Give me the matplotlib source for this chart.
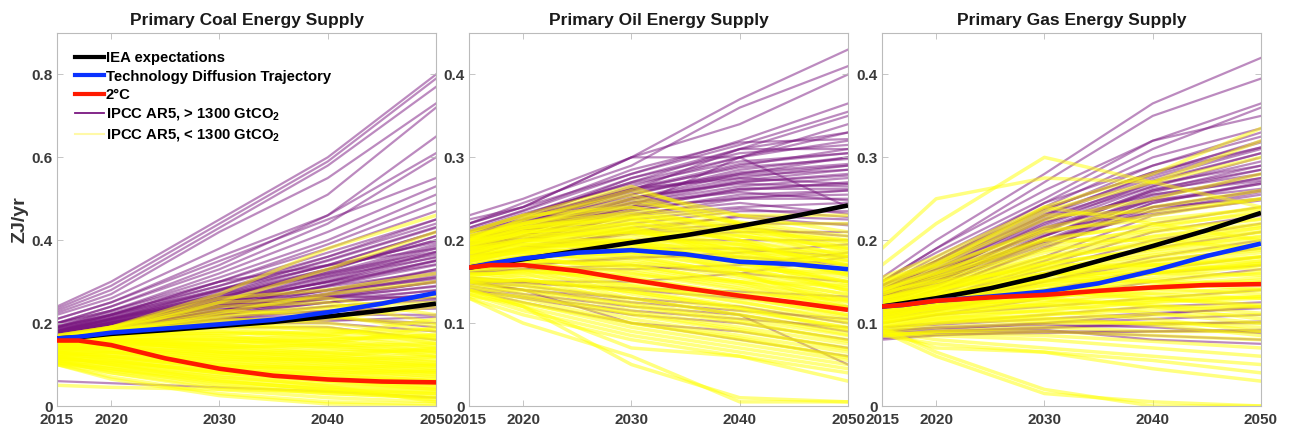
import matplotlib
matplotlib.use("Agg")
import matplotlib.pyplot as plt
from matplotlib.lines import Line2D

# scenario years (IPCC AR5 database points, clipped at 2015)
scen_years = [2015, 2020, 2030, 2040, 2050]
# smooth trajectories
path_years = [2015, 2017, 2020, 2025, 2030, 2035, 2040, 2045, 2050]

titles = ["Primary Coal Energy Supply", "Primary Oil Energy Supply", "Primary Gas Energy Supply"]
ylims = [0.9, 0.45, 0.45]
yticks = [[0, 0.2, 0.4, 0.6, 0.8], [0, 0.1, 0.2, 0.3, 0.4], [0, 0.1, 0.2, 0.3, 0.4]]
xticks = [2015, 2020, 2030, 2040, 2050]

# ---- main trajectories ----
coal_iea = [0.163, 0.166, 0.174, 0.183, 0.193, 0.203, 0.216, 0.230, 0.247]
coal_tdt = [0.163, 0.167, 0.177, 0.187, 0.197, 0.208, 0.226, 0.247, 0.273]
coal_2c = [0.158, 0.158, 0.147, 0.115, 0.090, 0.073, 0.064, 0.059, 0.057]

oil_iea = [0.167, 0.171, 0.177, 0.187, 0.197, 0.206, 0.217, 0.229, 0.242]
oil_tdt = [0.167, 0.172, 0.178, 0.185, 0.188, 0.183, 0.174, 0.171, 0.165]
oil_2c = [0.167, 0.170, 0.170, 0.163, 0.152, 0.142, 0.133, 0.125, 0.116]

gas_iea = [0.120, 0.124, 0.130, 0.142, 0.157, 0.175, 0.193, 0.212, 0.233]
gas_tdt = [0.120, 0.122, 0.127, 0.132, 0.138, 0.148, 0.163, 0.181, 0.196]
gas_2c = [0.120, 0.122, 0.127, 0.131, 0.134, 0.139, 0.143, 0.146, 0.147]

# ---- IPCC AR5 scenarios, > 1300 GtCO2 ----
coal_high = [
    [0.240, 0.300, 0.450, 0.600, 0.800], [0.235, 0.290, 0.440, 0.590, 0.790],
    [0.230, 0.280, 0.430, 0.580, 0.770], [0.225, 0.270, 0.420, 0.550, 0.730],
    [0.220, 0.260, 0.380, 0.510, 0.720], [0.210, 0.250, 0.360, 0.460, 0.650],
    [0.200, 0.240, 0.340, 0.460, 0.610], [0.200, 0.240, 0.330, 0.440, 0.600],
    [0.210, 0.250, 0.350, 0.450, 0.550], [0.190, 0.230, 0.320, 0.420, 0.530],
    [0.200, 0.230, 0.310, 0.400, 0.510], [0.190, 0.220, 0.300, 0.390, 0.490],
    [0.190, 0.220, 0.300, 0.380, 0.470], [0.180, 0.220, 0.290, 0.370, 0.450],
    [0.190, 0.220, 0.280, 0.360, 0.440], [0.180, 0.210, 0.280, 0.350, 0.430],
    [0.180, 0.210, 0.270, 0.340, 0.420], [0.180, 0.210, 0.270, 0.330, 0.410],
    [0.180, 0.210, 0.260, 0.330, 0.400], [0.170, 0.200, 0.260, 0.320, 0.390],
    [0.180, 0.200, 0.250, 0.310, 0.380], [0.170, 0.200, 0.250, 0.300, 0.370],
    [0.170, 0.200, 0.250, 0.300, 0.360], [0.170, 0.200, 0.240, 0.290, 0.350],
    [0.170, 0.190, 0.240, 0.290, 0.340], [0.170, 0.190, 0.240, 0.280, 0.330],
    [0.170, 0.190, 0.230, 0.280, 0.320], [0.160, 0.190, 0.230, 0.270, 0.310],
    [0.170, 0.190, 0.230, 0.260, 0.300], [0.160, 0.190, 0.220, 0.260, 0.290],
    [0.170, 0.190, 0.220, 0.250, 0.280], [0.160, 0.180, 0.220, 0.250, 0.270],
    [0.160, 0.180, 0.210, 0.240, 0.260], [0.160, 0.180, 0.210, 0.230, 0.240],
    [0.160, 0.180, 0.210, 0.220, 0.220], [0.160, 0.180, 0.200, 0.210, 0.200],
    [0.160, 0.180, 0.200, 0.200, 0.180], [0.160, 0.170, 0.190, 0.190, 0.160],
    [0.175, 0.205, 0.265, 0.330, 0.400], [0.185, 0.215, 0.275, 0.340, 0.380],
    [0.175, 0.200, 0.245, 0.300, 0.350], [0.165, 0.195, 0.240, 0.270, 0.330],
    [0.180, 0.205, 0.255, 0.280, 0.310], [0.170, 0.195, 0.225, 0.265, 0.300],
    [0.200, 0.230, 0.300, 0.340, 0.420], [0.195, 0.225, 0.290, 0.360, 0.450],
    [0.172, 0.198, 0.255, 0.315, 0.385], [0.178, 0.205, 0.262, 0.322, 0.372],
    [0.168, 0.192, 0.238, 0.292, 0.352], [0.182, 0.208, 0.258, 0.298, 0.342],
    [0.176, 0.200, 0.248, 0.288, 0.325], [0.166, 0.188, 0.232, 0.272, 0.315],
    [0.174, 0.196, 0.236, 0.268, 0.298], [0.164, 0.186, 0.226, 0.262, 0.288],
    [0.186, 0.212, 0.268, 0.318, 0.365], [0.192, 0.220, 0.282, 0.338, 0.395],
    [0.170, 0.194, 0.242, 0.305, 0.372], [0.178, 0.202, 0.252, 0.312, 0.358],
    [0.168, 0.190, 0.230, 0.250, 0.268], [0.166, 0.186, 0.220, 0.240, 0.255],
    [0.172, 0.192, 0.228, 0.258, 0.278], [0.184, 0.210, 0.262, 0.325, 0.410],
    [0.188, 0.216, 0.278, 0.352, 0.432], [0.176, 0.202, 0.245, 0.278, 0.305],
    [0.170, 0.195, 0.240, 0.265, 0.260], [0.164, 0.184, 0.215, 0.230, 0.235],
    [0.162, 0.182, 0.210, 0.205, 0.215], [0.160, 0.178, 0.205, 0.215, 0.190],
    [0.060, 0.055, 0.045, 0.035, 0.020],
]
oil_high = [
    [0.230, 0.250, 0.300, 0.370, 0.430], [0.220, 0.245, 0.290, 0.360, 0.410],
    [0.225, 0.240, 0.300, 0.340, 0.400], [0.220, 0.240, 0.280, 0.320, 0.365],
    [0.215, 0.235, 0.280, 0.315, 0.355], [0.210, 0.230, 0.275, 0.310, 0.350],
    [0.210, 0.230, 0.270, 0.300, 0.340], [0.220, 0.240, 0.300, 0.300, 0.330],
    [0.210, 0.230, 0.270, 0.310, 0.330], [0.200, 0.225, 0.265, 0.300, 0.320],
    [0.210, 0.220, 0.260, 0.290, 0.310], [0.200, 0.220, 0.260, 0.310, 0.310],
    [0.200, 0.220, 0.255, 0.285, 0.300], [0.210, 0.225, 0.260, 0.280, 0.300],
    [0.200, 0.215, 0.250, 0.280, 0.290], [0.190, 0.210, 0.250, 0.275, 0.290],
    [0.200, 0.215, 0.245, 0.270, 0.280], [0.200, 0.210, 0.240, 0.300, 0.240],
    [0.190, 0.210, 0.245, 0.265, 0.275], [0.190, 0.205, 0.240, 0.260, 0.270],
    [0.200, 0.210, 0.240, 0.250, 0.260], [0.190, 0.205, 0.235, 0.255, 0.260],
    [0.190, 0.200, 0.230, 0.250, 0.250], [0.180, 0.200, 0.230, 0.240, 0.245],
    [0.190, 0.200, 0.220, 0.235, 0.235], [0.180, 0.190, 0.210, 0.230, 0.225],
    [0.180, 0.190, 0.210, 0.220, 0.220], [0.180, 0.190, 0.200, 0.210, 0.210],
    [0.170, 0.180, 0.200, 0.200, 0.200], [0.170, 0.180, 0.190, 0.190, 0.180],
    [0.160, 0.170, 0.180, 0.180, 0.170], [0.160, 0.165, 0.170, 0.160, 0.150],
    [0.150, 0.150, 0.140, 0.130, 0.120], [0.150, 0.140, 0.130, 0.120, 0.100],
    [0.145, 0.135, 0.120, 0.110, 0.090], [0.140, 0.130, 0.110, 0.100, 0.080],
    [0.150, 0.140, 0.100, 0.090, 0.070], [0.140, 0.125, 0.100, 0.080, 0.060],
    [0.150, 0.145, 0.130, 0.110, 0.050], [0.155, 0.150, 0.150, 0.160, 0.180],
    [0.205, 0.222, 0.262, 0.292, 0.305], [0.195, 0.212, 0.248, 0.272, 0.285],
    [0.205, 0.218, 0.252, 0.268, 0.265], [0.185, 0.205, 0.238, 0.262, 0.268],
    [0.205, 0.225, 0.262, 0.288, 0.298], [0.198, 0.218, 0.255, 0.282, 0.292],
    [0.212, 0.232, 0.268, 0.295, 0.305], [0.202, 0.222, 0.258, 0.278, 0.285],
    [0.196, 0.214, 0.250, 0.270, 0.278], [0.208, 0.228, 0.262, 0.275, 0.268],
    [0.192, 0.210, 0.242, 0.262, 0.262], [0.188, 0.206, 0.236, 0.252, 0.255],
    [0.195, 0.212, 0.245, 0.258, 0.248], [0.185, 0.202, 0.232, 0.245, 0.232],
    [0.182, 0.198, 0.225, 0.238, 0.228], [0.176, 0.192, 0.215, 0.228, 0.218],
    [0.174, 0.188, 0.208, 0.215, 0.205], [0.215, 0.236, 0.285, 0.318, 0.322],
    [0.202, 0.225, 0.275, 0.305, 0.315], [0.152, 0.148, 0.142, 0.138, 0.132],
    [0.148, 0.140, 0.125, 0.115, 0.105], [0.142, 0.132, 0.115, 0.105, 0.095],
    [0.165, 0.170, 0.178, 0.185, 0.195], [0.162, 0.165, 0.165, 0.170, 0.185],
]
gas_high = [
    [0.155, 0.200, 0.280, 0.365, 0.420], [0.150, 0.190, 0.270, 0.350, 0.395],
    [0.150, 0.185, 0.250, 0.320, 0.365], [0.145, 0.180, 0.245, 0.310, 0.360],
    [0.150, 0.190, 0.260, 0.320, 0.350], [0.145, 0.175, 0.240, 0.300, 0.335],
    [0.140, 0.170, 0.235, 0.290, 0.330], [0.140, 0.175, 0.245, 0.290, 0.325],
    [0.135, 0.165, 0.230, 0.280, 0.320], [0.140, 0.170, 0.230, 0.275, 0.310],
    [0.135, 0.160, 0.220, 0.270, 0.305], [0.130, 0.160, 0.225, 0.265, 0.300],
    [0.130, 0.155, 0.210, 0.260, 0.290], [0.130, 0.150, 0.200, 0.250, 0.280],
    [0.125, 0.150, 0.205, 0.255, 0.275], [0.125, 0.145, 0.195, 0.245, 0.270],
    [0.120, 0.140, 0.190, 0.240, 0.260], [0.125, 0.145, 0.200, 0.235, 0.255],
    [0.120, 0.140, 0.180, 0.230, 0.250], [0.120, 0.135, 0.175, 0.220, 0.240],
    [0.115, 0.130, 0.170, 0.210, 0.230], [0.115, 0.130, 0.165, 0.200, 0.220],
    [0.110, 0.125, 0.160, 0.190, 0.210], [0.110, 0.120, 0.150, 0.180, 0.200],
    [0.105, 0.115, 0.140, 0.165, 0.180], [0.100, 0.110, 0.130, 0.150, 0.165],
    [0.100, 0.110, 0.120, 0.130, 0.140], [0.095, 0.100, 0.110, 0.120, 0.125],
    [0.090, 0.095, 0.100, 0.105, 0.110], [0.085, 0.090, 0.095, 0.100, 0.100],
    [0.085, 0.088, 0.090, 0.085, 0.080], [0.080, 0.085, 0.090, 0.090, 0.090],
    [0.085, 0.090, 0.092, 0.080, 0.075], [0.090, 0.092, 0.100, 0.110, 0.120],
    [0.130, 0.160, 0.200, 0.240, 0.260], [0.140, 0.165, 0.215, 0.260, 0.280],
    [0.135, 0.158, 0.212, 0.262, 0.285], [0.128, 0.152, 0.205, 0.248, 0.268],
    [0.145, 0.172, 0.238, 0.282, 0.312], [0.132, 0.155, 0.198, 0.232, 0.248],
    [0.138, 0.165, 0.225, 0.272, 0.305], [0.134, 0.160, 0.218, 0.265, 0.295],
    [0.130, 0.156, 0.212, 0.258, 0.285], [0.142, 0.168, 0.232, 0.278, 0.312],
    [0.126, 0.150, 0.205, 0.252, 0.275], [0.122, 0.146, 0.198, 0.245, 0.268],
    [0.128, 0.152, 0.215, 0.248, 0.262], [0.132, 0.158, 0.222, 0.255, 0.272],
    [0.118, 0.140, 0.192, 0.236, 0.258], [0.124, 0.148, 0.208, 0.240, 0.250],
    [0.136, 0.162, 0.228, 0.268, 0.290], [0.146, 0.175, 0.238, 0.282, 0.318],
    [0.088, 0.090, 0.094, 0.098, 0.102], [0.082, 0.086, 0.088, 0.090, 0.092],
    [0.092, 0.094, 0.098, 0.095, 0.088], [0.095, 0.098, 0.105, 0.112, 0.118],
    [0.112, 0.124, 0.150, 0.175, 0.190], [0.108, 0.118, 0.140, 0.160, 0.170],
]

# ---- IPCC AR5 scenarios, < 1300 GtCO2 ----
coal_low = [
    [0.170, 0.190, 0.270, 0.380, 0.460], [0.160, 0.180, 0.250, 0.330, 0.420],
    [0.160, 0.190, 0.260, 0.280, 0.320], [0.160, 0.190, 0.250, 0.260, 0.220],
    [0.170, 0.190, 0.240, 0.250, 0.200], [0.160, 0.180, 0.220, 0.240, 0.250],
    [0.170, 0.190, 0.230, 0.220, 0.180], [0.160, 0.180, 0.210, 0.200, 0.170],
    [0.160, 0.180, 0.200, 0.190, 0.150], [0.160, 0.170, 0.190, 0.170, 0.140],
    [0.160, 0.170, 0.180, 0.160, 0.130], [0.150, 0.170, 0.170, 0.150, 0.120],
    [0.150, 0.160, 0.160, 0.140, 0.120], [0.150, 0.160, 0.150, 0.130, 0.110],
    [0.150, 0.150, 0.140, 0.120, 0.100], [0.140, 0.150, 0.130, 0.110, 0.100],
    [0.140, 0.140, 0.120, 0.110, 0.090], [0.140, 0.140, 0.120, 0.100, 0.080],
    [0.140, 0.130, 0.110, 0.090, 0.080], [0.130, 0.130, 0.100, 0.090, 0.070],
    [0.130, 0.120, 0.100, 0.080, 0.060], [0.130, 0.120, 0.090, 0.070, 0.060],
    [0.130, 0.110, 0.080, 0.060, 0.050], [0.120, 0.110, 0.080, 0.060, 0.040],
    [0.120, 0.100, 0.070, 0.050, 0.040], [0.120, 0.100, 0.060, 0.040, 0.030],
    [0.110, 0.090, 0.050, 0.030, 0.020], [0.110, 0.080, 0.040, 0.020, 0.010],
    [0.100, 0.070, 0.030, 0.010, 0.005], [0.100, 0.065, 0.025, 0.005, 0.000],
    [0.150, 0.160, 0.140, 0.150, 0.190], [0.150, 0.170, 0.160, 0.170, 0.210],
    [0.160, 0.170, 0.190, 0.210, 0.240], [0.140, 0.150, 0.150, 0.160, 0.170],
    [0.150, 0.160, 0.130, 0.120, 0.140], [0.155, 0.165, 0.145, 0.125, 0.105],
    [0.145, 0.155, 0.135, 0.115, 0.095], [0.135, 0.145, 0.125, 0.105, 0.085],
    [0.135, 0.135, 0.115, 0.095, 0.075], [0.125, 0.125, 0.105, 0.085, 0.065],
    [0.125, 0.115, 0.095, 0.075, 0.055], [0.115, 0.105, 0.085, 0.065, 0.045],
    [0.115, 0.095, 0.065, 0.045, 0.035], [0.105, 0.085, 0.055, 0.035, 0.025],
    [0.165, 0.185, 0.205, 0.215, 0.195], [0.165, 0.175, 0.175, 0.175, 0.160],
    [0.155, 0.175, 0.195, 0.185, 0.165], [0.145, 0.160, 0.165, 0.145, 0.130],
    [0.158, 0.172, 0.168, 0.155, 0.145], [0.152, 0.165, 0.158, 0.148, 0.138],
    [0.148, 0.158, 0.148, 0.138, 0.128], [0.142, 0.152, 0.140, 0.128, 0.118],
    [0.138, 0.146, 0.132, 0.118, 0.108], [0.132, 0.140, 0.124, 0.110, 0.098],
    [0.128, 0.134, 0.116, 0.102, 0.090], [0.122, 0.128, 0.108, 0.094, 0.082],
    [0.118, 0.120, 0.098, 0.084, 0.072], [0.112, 0.112, 0.090, 0.074, 0.062],
    [0.108, 0.104, 0.080, 0.064, 0.052], [0.104, 0.096, 0.070, 0.054, 0.042],
    [0.102, 0.088, 0.058, 0.042, 0.032], [0.100, 0.080, 0.046, 0.030, 0.020],
    [0.106, 0.090, 0.062, 0.038, 0.015], [0.116, 0.102, 0.075, 0.048, 0.010],
    [0.160, 0.178, 0.182, 0.168, 0.152], [0.164, 0.184, 0.196, 0.182, 0.162],
    [0.156, 0.170, 0.175, 0.178, 0.185], [0.150, 0.162, 0.155, 0.160, 0.172],
    [0.146, 0.156, 0.144, 0.145, 0.150], [0.135, 0.142, 0.128, 0.130, 0.135],
    [0.126, 0.130, 0.112, 0.112, 0.118], [0.120, 0.118, 0.094, 0.092, 0.098],
    [0.112, 0.108, 0.084, 0.078, 0.085], [0.168, 0.186, 0.215, 0.235, 0.265],
    [0.162, 0.180, 0.225, 0.270, 0.300], [0.050, 0.045, 0.040, 0.035, 0.030],
]
oil_low = [
    [0.210, 0.230, 0.265, 0.220, 0.200], [0.200, 0.225, 0.260, 0.230, 0.210],
    [0.205, 0.220, 0.250, 0.220, 0.190], [0.210, 0.230, 0.240, 0.210, 0.180],
    [0.200, 0.220, 0.245, 0.230, 0.230], [0.200, 0.215, 0.230, 0.220, 0.220],
    [0.200, 0.215, 0.225, 0.210, 0.200], [0.195, 0.210, 0.220, 0.205, 0.190],
    [0.190, 0.210, 0.215, 0.200, 0.180], [0.200, 0.205, 0.210, 0.195, 0.175],
    [0.190, 0.205, 0.210, 0.190, 0.170], [0.190, 0.200, 0.205, 0.185, 0.165],
    [0.185, 0.200, 0.200, 0.180, 0.160], [0.190, 0.195, 0.195, 0.175, 0.155],
    [0.180, 0.195, 0.190, 0.170, 0.150], [0.185, 0.190, 0.185, 0.165, 0.145],
    [0.180, 0.190, 0.180, 0.160, 0.140], [0.175, 0.185, 0.175, 0.155, 0.135],
    [0.180, 0.185, 0.170, 0.150, 0.130], [0.175, 0.180, 0.165, 0.145, 0.125],
    [0.170, 0.180, 0.160, 0.140, 0.120], [0.175, 0.175, 0.155, 0.135, 0.115],
    [0.170, 0.175, 0.150, 0.130, 0.110], [0.165, 0.170, 0.145, 0.125, 0.105],
    [0.170, 0.170, 0.140, 0.120, 0.100], [0.165, 0.165, 0.135, 0.115, 0.095],
    [0.160, 0.160, 0.130, 0.110, 0.090], [0.160, 0.155, 0.125, 0.105, 0.085],
    [0.155, 0.150, 0.120, 0.100, 0.080], [0.155, 0.145, 0.115, 0.095, 0.075],
    [0.150, 0.140, 0.110, 0.090, 0.070], [0.150, 0.135, 0.105, 0.085, 0.065],
    [0.145, 0.130, 0.100, 0.080, 0.060], [0.140, 0.125, 0.095, 0.075, 0.055],
    [0.140, 0.120, 0.090, 0.070, 0.050], [0.135, 0.115, 0.085, 0.065, 0.045],
    [0.130, 0.110, 0.080, 0.060, 0.040], [0.135, 0.120, 0.070, 0.060, 0.030],
    [0.130, 0.100, 0.060, 0.005, 0.005], [0.140, 0.120, 0.050, 0.010, 0.005],
    [0.200, 0.210, 0.220, 0.200, 0.160], [0.190, 0.200, 0.200, 0.195, 0.170],
    [0.180, 0.190, 0.195, 0.190, 0.185], [0.170, 0.180, 0.185, 0.180, 0.175],
    [0.195, 0.215, 0.235, 0.215, 0.195], [0.185, 0.200, 0.215, 0.175, 0.150],
    [0.175, 0.190, 0.200, 0.165, 0.140], [0.205, 0.218, 0.228, 0.198, 0.168],
    [0.195, 0.208, 0.212, 0.188, 0.158], [0.185, 0.196, 0.198, 0.172, 0.148],
    [0.178, 0.186, 0.182, 0.158, 0.128], [0.168, 0.176, 0.168, 0.148, 0.118],
    [0.158, 0.162, 0.152, 0.132, 0.108], [0.152, 0.152, 0.138, 0.118, 0.092],
    [0.208, 0.222, 0.232, 0.212, 0.188], [0.204, 0.218, 0.226, 0.206, 0.182],
    [0.198, 0.214, 0.222, 0.200, 0.176], [0.194, 0.208, 0.214, 0.194, 0.170],
    [0.188, 0.204, 0.208, 0.188, 0.164], [0.184, 0.198, 0.200, 0.182, 0.158],
    [0.178, 0.192, 0.194, 0.174, 0.150], [0.174, 0.188, 0.186, 0.166, 0.142],
    [0.168, 0.182, 0.178, 0.158, 0.134], [0.164, 0.176, 0.170, 0.150, 0.126],
    [0.160, 0.170, 0.162, 0.142, 0.118], [0.156, 0.164, 0.154, 0.134, 0.110],
    [0.152, 0.158, 0.146, 0.126, 0.102], [0.148, 0.152, 0.138, 0.118, 0.094],
    [0.144, 0.146, 0.130, 0.110, 0.086], [0.140, 0.140, 0.122, 0.102, 0.078],
    [0.136, 0.132, 0.112, 0.092, 0.068], [0.132, 0.124, 0.100, 0.082, 0.058],
    [0.202, 0.220, 0.240, 0.222, 0.205], [0.196, 0.212, 0.228, 0.215, 0.198],
    [0.186, 0.200, 0.210, 0.205, 0.192], [0.176, 0.186, 0.190, 0.185, 0.180],
    [0.168, 0.176, 0.172, 0.165, 0.160], [0.158, 0.162, 0.158, 0.150, 0.145],
    [0.150, 0.152, 0.142, 0.135, 0.128], [0.200, 0.226, 0.255, 0.218, 0.185],
    [0.192, 0.210, 0.218, 0.178, 0.138], [0.182, 0.194, 0.198, 0.160, 0.120],
]
gas_low = [
    [0.190, 0.250, 0.275, 0.270, 0.300], [0.170, 0.220, 0.300, 0.270, 0.240],
    [0.155, 0.180, 0.240, 0.280, 0.335], [0.150, 0.175, 0.235, 0.270, 0.320],
    [0.150, 0.170, 0.240, 0.220, 0.200], [0.145, 0.170, 0.225, 0.250, 0.280],
    [0.140, 0.165, 0.215, 0.240, 0.260], [0.140, 0.160, 0.210, 0.230, 0.250],
    [0.135, 0.155, 0.200, 0.220, 0.240], [0.135, 0.155, 0.190, 0.215, 0.235],
    [0.130, 0.150, 0.185, 0.210, 0.225], [0.130, 0.145, 0.180, 0.205, 0.220],
    [0.125, 0.145, 0.175, 0.200, 0.215], [0.125, 0.140, 0.170, 0.190, 0.210],
    [0.120, 0.140, 0.165, 0.185, 0.200], [0.120, 0.135, 0.160, 0.180, 0.195],
    [0.115, 0.130, 0.155, 0.175, 0.190], [0.115, 0.130, 0.150, 0.170, 0.180],
    [0.110, 0.125, 0.145, 0.160, 0.175], [0.110, 0.125, 0.140, 0.155, 0.170],
    [0.105, 0.120, 0.135, 0.150, 0.160], [0.105, 0.115, 0.130, 0.145, 0.155],
    [0.100, 0.115, 0.125, 0.140, 0.150], [0.100, 0.110, 0.120, 0.130, 0.140],
    [0.095, 0.105, 0.115, 0.125, 0.130], [0.095, 0.100, 0.110, 0.120, 0.120],
    [0.090, 0.100, 0.105, 0.110, 0.110], [0.090, 0.095, 0.100, 0.100, 0.100],
    [0.085, 0.090, 0.095, 0.090, 0.090], [0.085, 0.090, 0.090, 0.085, 0.080],
    [0.090, 0.085, 0.080, 0.070, 0.060], [0.090, 0.080, 0.070, 0.060, 0.050],
    [0.085, 0.075, 0.065, 0.055, 0.040], [0.090, 0.070, 0.065, 0.045, 0.030],
    [0.095, 0.065, 0.020, 0.000, 0.000], [0.090, 0.060, 0.015, 0.005, 0.000],
    [0.120, 0.130, 0.140, 0.130, 0.120], [0.125, 0.140, 0.160, 0.150, 0.140],
    [0.130, 0.145, 0.170, 0.170, 0.165], [0.110, 0.120, 0.130, 0.120, 0.105],
    [0.115, 0.125, 0.140, 0.135, 0.130], [0.140, 0.160, 0.200, 0.200, 0.190],
    [0.120, 0.135, 0.150, 0.165, 0.180], [0.105, 0.120, 0.140, 0.160, 0.170],
    [0.128, 0.142, 0.172, 0.188, 0.205], [0.118, 0.132, 0.158, 0.172, 0.185],
    [0.112, 0.128, 0.148, 0.162, 0.172], [0.108, 0.118, 0.132, 0.142, 0.148],
    [0.102, 0.112, 0.122, 0.128, 0.132], [0.122, 0.138, 0.178, 0.195, 0.215],
    [0.148, 0.168, 0.212, 0.225, 0.238], [0.144, 0.162, 0.202, 0.218, 0.232],
    [0.140, 0.158, 0.195, 0.212, 0.226], [0.136, 0.152, 0.188, 0.204, 0.218],
    [0.132, 0.148, 0.180, 0.196, 0.210], [0.128, 0.144, 0.172, 0.190, 0.204],
    [0.124, 0.138, 0.166, 0.182, 0.196], [0.120, 0.134, 0.158, 0.176, 0.188],
    [0.116, 0.130, 0.152, 0.168, 0.180], [0.112, 0.124, 0.146, 0.160, 0.172],
    [0.108, 0.120, 0.138, 0.152, 0.162], [0.104, 0.116, 0.130, 0.144, 0.152],
    [0.100, 0.110, 0.124, 0.136, 0.142], [0.096, 0.106, 0.116, 0.126, 0.132],
    [0.092, 0.102, 0.110, 0.116, 0.120], [0.098, 0.104, 0.102, 0.100, 0.095],
    [0.102, 0.108, 0.106, 0.098, 0.085], [0.106, 0.112, 0.114, 0.105, 0.090],
    [0.110, 0.118, 0.122, 0.112, 0.100], [0.114, 0.122, 0.128, 0.122, 0.112],
    [0.118, 0.128, 0.136, 0.130, 0.122], [0.122, 0.132, 0.145, 0.142, 0.135],
    [0.126, 0.136, 0.152, 0.150, 0.148], [0.130, 0.142, 0.160, 0.160, 0.158],
    [0.152, 0.172, 0.230, 0.235, 0.250], [0.138, 0.150, 0.165, 0.170, 0.175],
    [0.086, 0.088, 0.085, 0.078, 0.070],
]

panels = [
    (coal_high, coal_low, coal_iea, coal_tdt, coal_2c),
    (oil_high, oil_low, oil_iea, oil_tdt, oil_2c),
    (gas_high, gas_low, gas_iea, gas_tdt, gas_2c),
]

PURPLE = (0.48, 0.09, 0.50)
YELLOW = (1.0, 1.0, 0.0)
TICK_COLOR = "#3a3a3a"

plt.rcParams["font.family"] = ["Liberation Sans", "DejaVu Sans"]
plt.rcParams["font.weight"] = "bold"
plt.rcParams["mathtext.fontset"] = "custom"
plt.rcParams["mathtext.bf"] = "Liberation Sans:bold"
plt.rcParams["mathtext.rm"] = "Liberation Sans:bold"

fig = plt.figure(figsize=(12.89, 4.33), dpi=100)
lefts = [57, 469, 882]
width, bottom, height = 379, 27, 373

for i, (high, low, iea, tdt, c2) in enumerate(panels):
    ax = fig.add_axes([lefts[i] / 1289, bottom / 433, width / 1289, height / 433])
    for s in high:
        ax.plot(scen_years, s, color=PURPLE, alpha=0.5, lw=1.6, zorder=1)
    for s in low:
        ax.plot(scen_years, s, color=YELLOW, alpha=0.5, lw=2.5, zorder=2)
    ax.plot(path_years, iea, color="black", lw=3.3, zorder=5, solid_capstyle="butt")
    ax.plot(path_years, tdt, color="#0a32ff", lw=3.3, zorder=6, solid_capstyle="butt")
    ax.plot(path_years, c2, color="#ff1a00", lw=3.3, zorder=7, solid_capstyle="butt")

    ax.set_xlim(2015, 2050)
    ax.set_ylim(0, ylims[i])
    ax.set_xticks(xticks)
    ax.set_yticks(yticks[i])
    ax.set_yticklabels([f"{v:g}" for v in yticks[i]])
    ax.tick_params(direction="in", top=True, right=True, length=4, width=0.6,
                   color="#bbbbbb", labelsize=11, labelcolor=TICK_COLOR)
    ax.tick_params(axis="x", pad=5)
    ax.tick_params(axis="y", pad=3)
    for sp in ax.spines.values():
        sp.set_color("#bbbbbb")
        sp.set_linewidth(0.8)
    ax.set_title(titles[i], fontsize=12.5, fontweight="bold", color="#1a1a1a", pad=6)
    if i == 0:
        ax.set_ylabel("ZJ/yr", fontsize=14, fontweight="bold", color="#333333", labelpad=2)
        handles = [
            Line2D([], [], color="black", lw=3),
            Line2D([], [], color="#0a32ff", lw=3),
            Line2D([], [], color="#ff1a00", lw=3),
            Line2D([], [], color=PURPLE, lw=1.3),
            Line2D([], [], color="#fff9a8", lw=1.5),
        ]
        labels = [
            "IEA expectations",
            "Technology Diffusion Trajectory",
            "2°C",
            r"IPCC AR5, > 1300 GtCO$_\mathbf{2}$",
            r"IPCC AR5, < 1300 GtCO$_\mathbf{2}$",
        ]
        ax.legend(handles, labels, loc="upper left", bbox_to_anchor=(0.025, 0.975),
                  frameon=False, fontsize=10.7, handlelength=1.9, handletextpad=0.15,
                  labelspacing=0.3, borderaxespad=0.2)

fig.savefig("out.png", dpi=100)
